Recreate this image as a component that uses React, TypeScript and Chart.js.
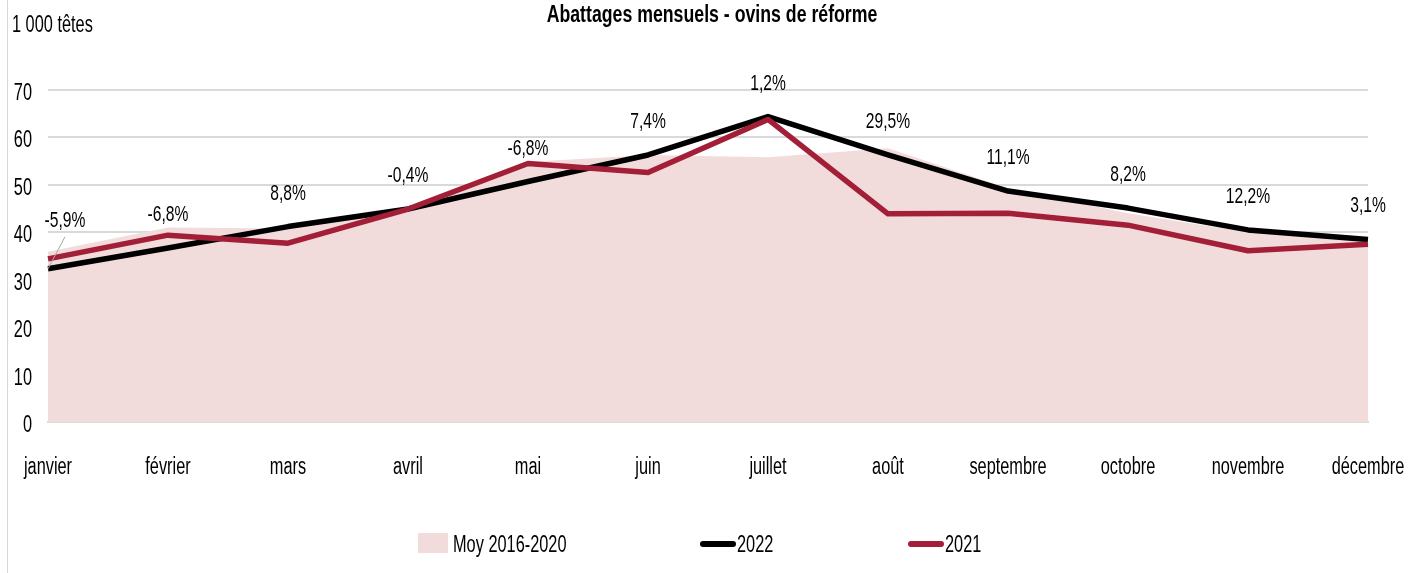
import React, { useEffect, useRef } from "react";
import { Chart, registerables } from "chart.js";

Chart.register(...registerables);

const months = ["janvier", "février", "mars", "avril", "mai", "juin", "juillet", "août", "septembre", "octobre", "novembre", "décembre"];
const moy2016_2020 = [35.9, 41.0, 40.8, 44.5, 54.8, 56.3, 55.8, 57.7, 49.3, 44.0, 40.0, 38.5];
const values2022 = [32.3, 36.7, 41.2, 44.9, 50.7, 56.3, 64.4, 56.3, 48.7, 45.1, 40.5, 38.5];
const values2021 = [34.4, 39.4, 37.7, 44.9, 54.5, 52.6, 63.8, 43.9, 44.0, 41.5, 36.1, 37.5];
const variations = ["-5,9%", "-6,8%", "8,8%", "-0,4%", "-6,8%", "7,4%", "1,2%", "29,5%", "11,1%", "8,2%", "12,2%", "3,1%"];

const TITLE = "Abattages mensuels - ovins de réforme";
const UNIT = "1 000 têtes";
const FONT = '"Liberation Sans", Arial, sans-serif';
const SX = 0.71;

const PINK = "#f2dcdb";
const RED = "#a31f37";
const BLACK = "#000000";

function drawText(
  ctx: CanvasRenderingContext2D,
  s: string,
  x: number,
  y: number,
  size: number,
  align: CanvasTextAlign = "left",
  bold = false,
  sx = SX
) {
  ctx.save();
  ctx.font = `${bold ? "bold " : ""}${size}px ${FONT}`;
  ctx.textAlign = align;
  ctx.textBaseline = "alphabetic";
  ctx.fillStyle = "#000";
  ctx.translate(x, y);
  ctx.scale(sx, 1);
  ctx.fillText(s, 0, 0);
  ctx.restore();
}

const overlayPlugin = {
  id: "overlay",
  afterDraw(chart: any) {
    const ctx = chart.ctx as CanvasRenderingContext2D;
    const xs = chart.scales.x;
    const ys = chart.scales.y;
    ctx.save();

    // outer border (left)
    ctx.strokeStyle = "#d9d9d9";
    ctx.lineWidth = 1;
    ctx.beginPath();
    ctx.moveTo(7.5, 0);
    ctx.lineTo(7.5, chart.height);
    ctx.stroke();

    // title and unit
    drawText(ctx, TITLE, 712, 22, 23, "center", true, 0.77);
    drawText(ctx, UNIT, 12, 32, 23, "left");

    // y tick labels
    ys.ticks.forEach((t: any, i: number) => {
      drawText(ctx, String(t.label), chart.chartArea.left - 16, ys.getPixelForTick(i) + 10, 23, "right");
    });

    // x tick labels
    xs.ticks.forEach((t: any, i: number) => {
      drawText(ctx, String(xs.getLabelForValue(t.value)), xs.getPixelForTick(i), 474, 23, "center");
    });

    // data labels
    variations.forEach((txt, i) => {
      const px = xs.getPixelForValue(i);
      const py = ys.getPixelForValue(values2022[i]);
      if (i === 0) {
        const lx = px + 17;
        const ly = py - 42;
        ctx.strokeStyle = "#a6a6a6";
        ctx.lineWidth = 1;
        ctx.beginPath();
        ctx.moveTo(lx, ly + 10);
        ctx.lineTo(px, py);
        ctx.stroke();
        drawText(ctx, txt, lx, ly, 22, "center");
      } else {
        drawText(ctx, txt, px, py - 27, 22, "center");
      }
    });

    // legend
    const base = 552;
    const mid = 544;
    ctx.fillStyle = PINK;
    ctx.fillRect(418, 533, 30, 20);
    drawText(ctx, "Moy 2016-2020", 453, base, 23, "left");

    ctx.lineCap = "round";
    ctx.lineWidth = 6;
    ctx.strokeStyle = BLACK;
    ctx.beginPath();
    ctx.moveTo(703, mid);
    ctx.lineTo(733, mid);
    ctx.stroke();
    drawText(ctx, "2022", 737, base, 23, "left");

    ctx.strokeStyle = RED;
    ctx.beginPath();
    ctx.moveTo(911, mid);
    ctx.lineTo(941, mid);
    ctx.stroke();
    drawText(ctx, "2021", 945, base, 23, "left");

    ctx.restore();
  },
};

export default function App() {
  const canvasRef = useRef<HTMLCanvasElement | null>(null);

  useEffect(() => {
    if (!canvasRef.current) return;
    const chart = new Chart(canvasRef.current, {
      type: "line",
      data: {
        labels: months,
        datasets: [
          {
            label: "2021",
            data: values2021,
            borderColor: RED,
            backgroundColor: RED,
            borderWidth: 5.5,
            pointRadius: 0,
            tension: 0,
            fill: false,
            borderJoinStyle: "round",
            order: 1,
          },
          {
            label: "2022",
            data: values2022,
            borderColor: BLACK,
            backgroundColor: BLACK,
            borderWidth: 5.5,
            pointRadius: 0,
            tension: 0,
            fill: false,
            borderJoinStyle: "round",
            order: 2,
          },
          {
            label: "Moy 2016-2020",
            data: moy2016_2020,
            borderColor: PINK,
            backgroundColor: PINK,
            borderWidth: 0,
            pointRadius: 0,
            tension: 0,
            fill: "origin",
            order: 3,
          },
        ],
      },
      options: {
        responsive: false,
        animation: false,
        devicePixelRatio: 1,
        layout: { padding: { top: 90, right: 40, bottom: 0, left: 0 } },
        plugins: {
          legend: { display: false },
          title: { display: false },
          tooltip: { enabled: false },
        },
        scales: {
          x: {
            offset: false,
            grid: { display: false, drawTicks: false },
            border: { display: true, color: "#d9d9d9", width: 2 },
            ticks: { display: false, autoSkip: false, maxRotation: 0 },
            afterFit(scale: any) {
              scale.height = 151;
              scale.paddingLeft = 0;
              scale.paddingRight = 0;
            },
          },
          y: {
            min: 0,
            max: 70,
            grid: { color: "#d9d9d9", lineWidth: 2, drawTicks: false },
            border: { display: false },
            ticks: { display: false, stepSize: 10 },
            afterFit(scale: any) {
              scale.width = 48;
              scale.paddingTop = 0;
              scale.paddingBottom = 0;
            },
          },
        },
      },
      plugins: [overlayPlugin],
    });
    return () => chart.destroy();
  }, []);

  return (
    <div style={{ position: "fixed", left: 0, top: 0, width: 1408, height: 573, background: "#fff" }}>
      <canvas ref={canvasRef} width={1408} height={573} style={{ width: 1408, height: 573, display: "block" }} />
    </div>
  );
}
